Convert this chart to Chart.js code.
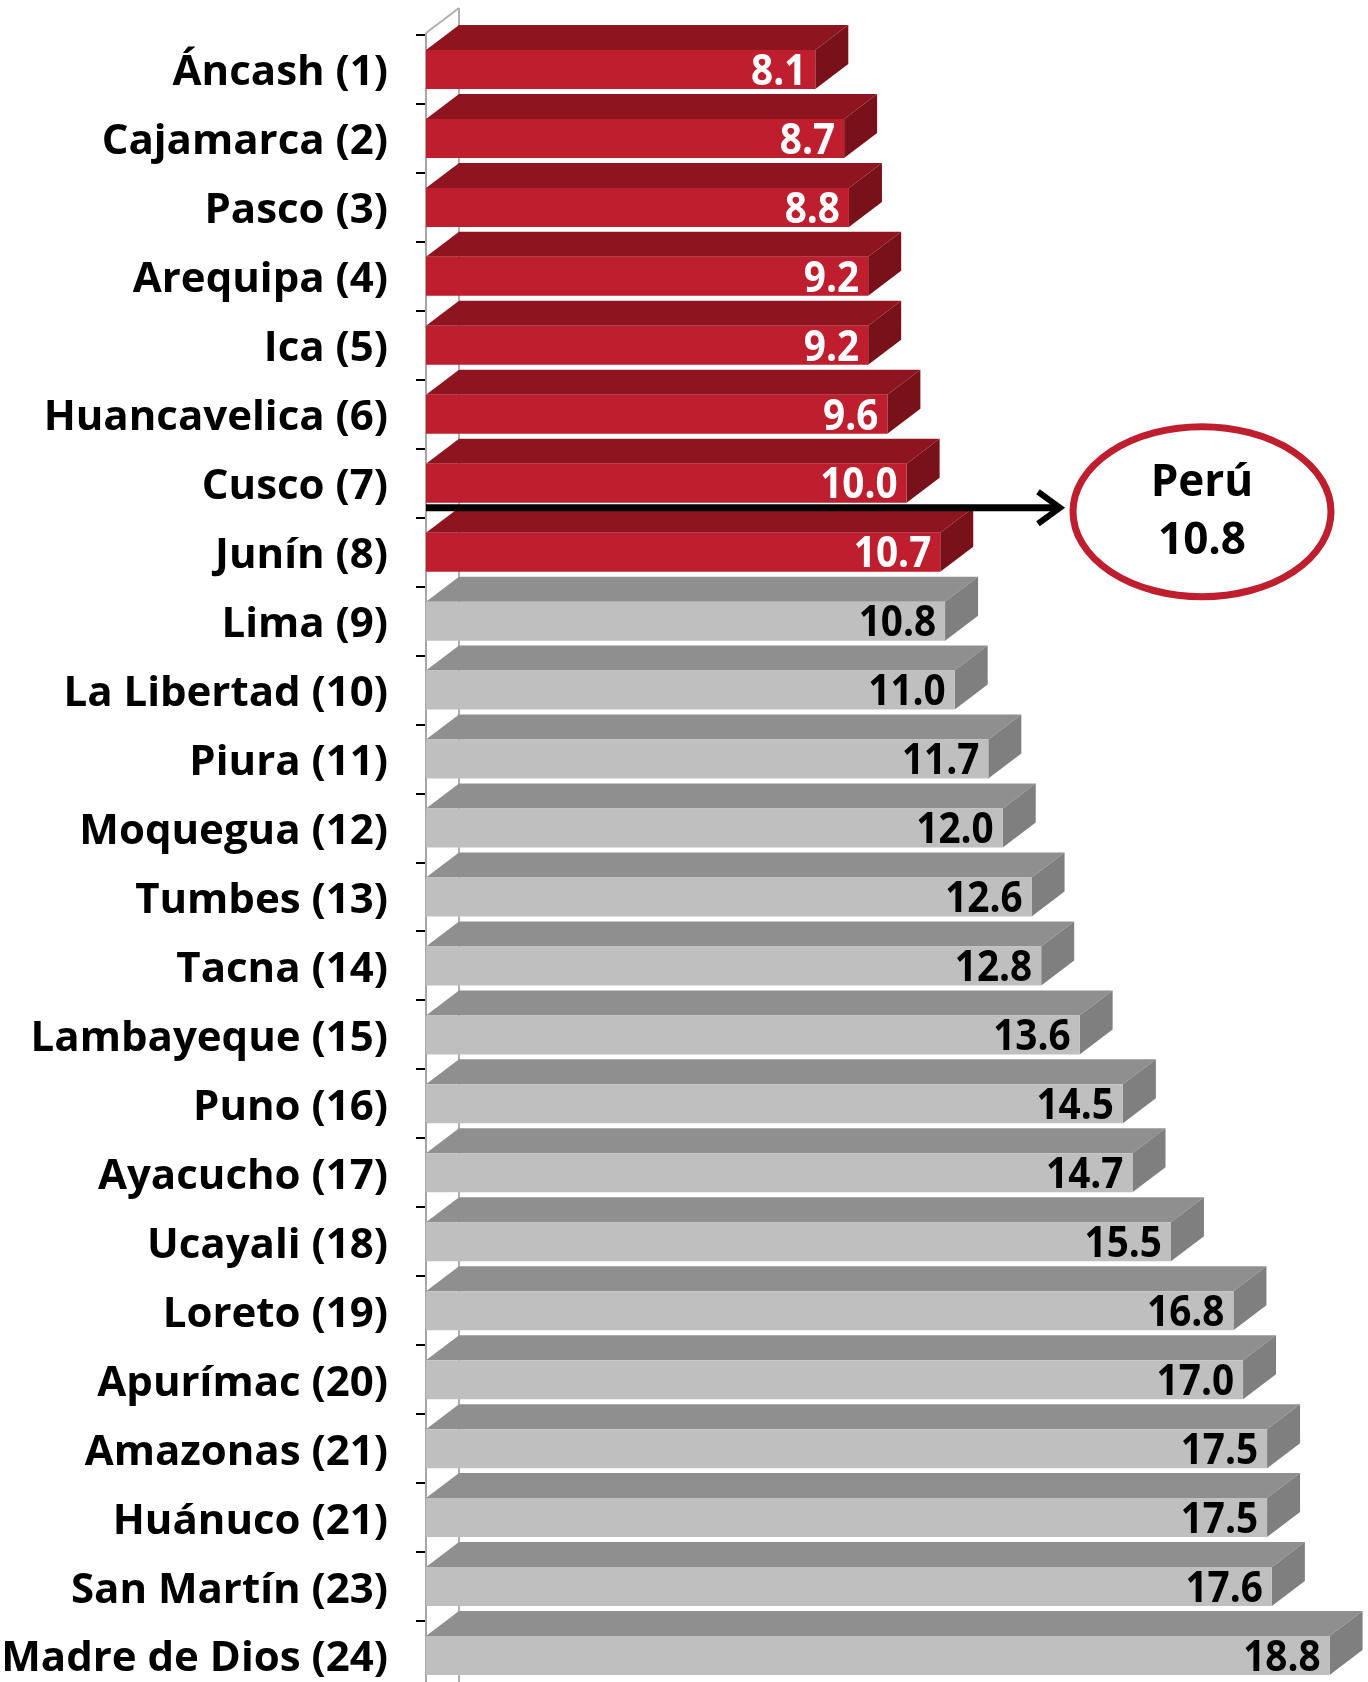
<!DOCTYPE html>
<html>
<head>
<meta charset="utf-8">
<script src="https://cdn.jsdelivr.net/npm/chart.js@4.4.1/dist/chart.umd.min.js"></script>
<style>
  html, body { margin: 0; padding: 0; background: #ffffff; overflow: hidden; }
  #wrap { width: 1368px; height: 1682px; overflow: hidden; position: relative; }
  canvas { display: block; }
</style>
</head>
<body>
<div id="wrap"><canvas id="c" width="1368" height="1700"></canvas></div>
<script>
// ---- data ----
const categories = [
  'Áncash (1)', 'Cajamarca (2)', 'Pasco (3)', 'Arequipa (4)', 'Ica (5)',
  'Huancavelica (6)', 'Cusco (7)', 'Junín (8)', 'Lima (9)', 'La Libertad (10)',
  'Piura (11)', 'Moquegua (12)', 'Tumbes (13)', 'Tacna (14)', 'Lambayeque (15)',
  'Puno (16)', 'Ayacucho (17)', 'Ucayali (18)', 'Loreto (19)', 'Apurímac (20)',
  'Amazonas (21)', 'Huánuco (21)', 'San Martín (23)', 'Madre de Dios (24)'
];
const values = [8.1, 8.7, 8.8, 9.2, 9.2, 9.6, 10.0, 10.7, 10.8, 11.0, 11.7, 12.0,
                12.6, 12.8, 13.6, 14.5, 14.7, 15.5, 16.8, 17.0, 17.5, 17.5, 17.6, 18.8];
const belowAverage = [true, true, true, true, true, true, true, true, false, false, false, false,
                      false, false, false, false, false, false, false, false, false, false, false, false];
const referenceName = 'Perú';
const referenceValue = 10.8;
const referenceAfterIndex = 6.5;   // arrow sits between Cusco (7) and Junín (8)

// ---- styles ----
const FONT = '"Open Sans", "DejaVu Sans", sans-serif';
const RED = { front: '#BE1E2D', top: '#8E1520', side: '#79111B' };
const GRAY = { front: '#BFBFBF', top: '#8F8F8F', side: '#7F7F7F' };
const DX = 33, DY = 25;

const bar3d = {
  id: 'bar3d',
  beforeDatasetsDraw(chart) {
    const ctx = chart.ctx;
    const area = chart.chartArea;
    ctx.save();
    ctx.strokeStyle = '#B0B0B0';
    ctx.lineWidth = 2;
    ctx.beginPath();
    ctx.moveTo(area.left + DX, area.top - 2 - DY);
    ctx.lineTo(area.left + DX, area.bottom);
    ctx.moveTo(area.left, area.top - 2);
    ctx.lineTo(area.left + DX, area.top - 2 - DY);
    ctx.stroke();
    ctx.strokeStyle = '#A6A6A6';
    ctx.beginPath();
    ctx.moveTo(area.left, area.top - 2);
    ctx.lineTo(area.left, area.top);
    ctx.stroke();
    const meta = chart.getDatasetMeta(0);
    meta.data.forEach((bar, i) => {
      const pal = belowAverage[i] ? RED : GRAY;
      const h = bar.height;
      const top = bar.y - h / 2, bottom = bar.y + h / 2;
      const x = bar.x, base = bar.base;
      ctx.fillStyle = pal.top;
      ctx.beginPath();
      ctx.moveTo(base, top);
      ctx.lineTo(base + DX, top - DY);
      ctx.lineTo(x + DX, top - DY);
      ctx.lineTo(x, top);
      ctx.closePath();
      ctx.fill();
      ctx.fillStyle = pal.side;
      ctx.beginPath();
      ctx.moveTo(x, top);
      ctx.lineTo(x + DX, top - DY);
      ctx.lineTo(x + DX, bottom - DY);
      ctx.lineTo(x, bottom);
      ctx.closePath();
      ctx.fill();
    });
    ctx.restore();
  },
  afterDatasetsDraw(chart) {
    const ctx = chart.ctx;
    const meta = chart.getDatasetMeta(0);
    ctx.save();
    ctx.font = 'bold 43px ' + FONT;
    ctx.textAlign = 'right';
    ctx.textBaseline = 'middle';
    meta.data.forEach((bar, i) => {
      ctx.save();
      ctx.fillStyle = belowAverage[i] ? '#FFFFFF' : '#000000';
      ctx.translate(bar.x - 9, bar.y + 3);
      ctx.scale(0.9, 1);
      ctx.fillText(values[i].toFixed(1), 0, 0);
      ctx.restore();
    });
    ctx.restore();

    // reference arrow + ellipse
    const area = chart.chartArea;
    const yScale = chart.scales.y;
    const yArrow = yScale.getPixelForValue(referenceAfterIndex) - 10;
    const cx = 1202, cy = yArrow + 4, rx = 129, ry = 85;
    const tip = cx - rx - 13;
    ctx.save();
    ctx.strokeStyle = '#000000';
    ctx.lineWidth = 7;
    ctx.beginPath();
    ctx.moveTo(area.left, yArrow);
    ctx.lineTo(tip - 3, yArrow);
    ctx.stroke();
    ctx.lineWidth = 6;
    ctx.lineJoin = 'miter';
    ctx.beginPath();
    ctx.moveTo(tip - 22, yArrow - 16);
    ctx.lineTo(tip, yArrow);
    ctx.lineTo(tip - 22, yArrow + 16);
    ctx.stroke();

    ctx.strokeStyle = '#BE1E2D';
    ctx.lineWidth = 7;
    ctx.beginPath();
    ctx.ellipse(cx, cy, rx, ry, 0, 0, Math.PI * 2);
    ctx.stroke();
    ctx.fillStyle = '#000000';
    ctx.font = 'bold 44px ' + FONT;
    ctx.textAlign = 'center';
    ctx.textBaseline = 'middle';
    ctx.fillText(referenceName, cx, cy - 28);
    ctx.fillText(referenceValue.toFixed(1), cx, cy + 30);
    ctx.restore();
  }
};

new Chart(document.getElementById('c'), {
  type: 'bar',
  data: {
    labels: categories,
    datasets: [{
      data: values,
      backgroundColor: belowAverage.map(b => b ? RED.front : GRAY.front),
      borderWidth: 0,
      categoryPercentage: 1,
      barPercentage: 0.566
    }]
  },
  options: {
    indexAxis: 'y',
    responsive: false,
    animation: false,
    devicePixelRatio: 1,
    layout: { padding: { top: 35, bottom: 10, left: 0, right: 0 } },
    plugins: { legend: { display: false }, tooltip: { enabled: false } },
    scales: {
      x: { display: false, min: 0, max: 19.6 },
      y: {
        afterFit(scale) { scale.width = 426; scale.paddingTop = 0; scale.paddingBottom = 0; },
        grid: { drawOnChartArea: false, drawTicks: true, tickLength: 10, color: '#000000', lineWidth: 2, offset: true },
        border: { display: true, color: '#A6A6A6', width: 2 },
        ticks: { color: '#000000', padding: 28, labelOffset: 4, font: { family: FONT, weight: 'bold', size: 42 } }
      }
    }
  },
  plugins: [bar3d]
});
</script>
</body>
</html>
